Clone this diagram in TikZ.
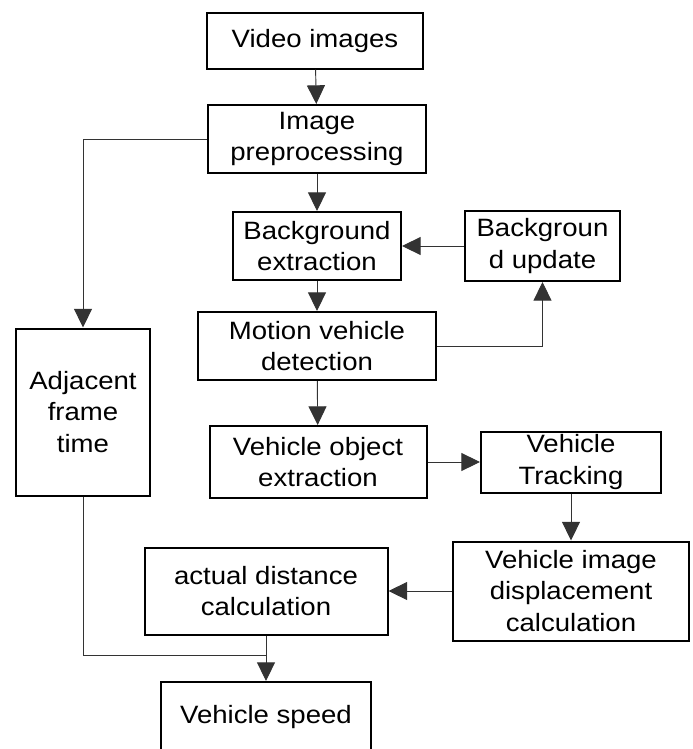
\documentclass[tikz,border=0pt]{standalone}
\usepackage{fontspec}
\setmainfont{Liberation Sans}[FakeStretch=1.1]
\usetikzlibrary{arrows.meta}
\begin{document}
\begin{tikzpicture}[x=0.75pt,y=-0.75pt,
  every node/.style={draw,line width=1.5pt,align=center,inner sep=0pt,
    font=\fontsize{18.8}{23.5}\selectfont},
  box/.style 2 args={minimum width=#1*0.75pt,minimum height=#2*0.75pt},
  every edge/.style={draw,line width=0.7pt,black!80},
  >={Triangle[length=14pt,width=13.5pt]}]
\useasboundingbox (0,0) rectangle (692,749);
\clip (0,0) rectangle (692,749);
\node[box={216}{56}] (v0) at (315,40.6) {Video images};
\node[box={218}{68}] (v1) at (317,139) {Image\\preprocessing};
\node[box={168}{68}] (v2) at (317,246) {Background\\extraction};
\node[box={155}{70}] (v3) at (542.5,246) {Backgroun\\d update};
\node[box={238}{68}] (v4) at (317,346) {Motion vehicle\\detection};
\node[box={134}{167}] (v5) at (83,412) {Adjacent\\frame\\time};
\node[box={217}{72}] (v6) at (318,462) {Vehicle object\\extraction};
\node[box={180}{61}] (v7) at (571,462) {Vehicle\\Tracking};
\node[box={236}{99}] (v8) at (571,591) {Vehicle image\\displacement\\calculation};
\node[box={243}{87}] (v9) at (266,591) {actual distance\\calculation};
\node[box={210}{70}] (v10) at (266,717) {Vehicle speed};
\coordinate (c0) at (266,655);
\draw [->] (v0) edge (v1);
\draw [->] (v1) edge (v2);
\draw [->] (v3) edge (v2);
\draw [->] (v2) edge (v4);
\draw [->] (v4) edge (v6);
\draw [->] (v6) edge (v7);
\draw [->] (v7) edge (v8);
\draw [->] (v8) edge (v9);
\draw [->] (v9) edge (v10);
\draw [->,line width=0.7pt,black!80] (v1.west) -| (v5.north);
\draw [->,line width=0.7pt,black!80] (v4.east) -| (v3.south);
\draw [line width=0.7pt,black!80] (v5.south) |- (c0);
\end{tikzpicture}
\end{document}
